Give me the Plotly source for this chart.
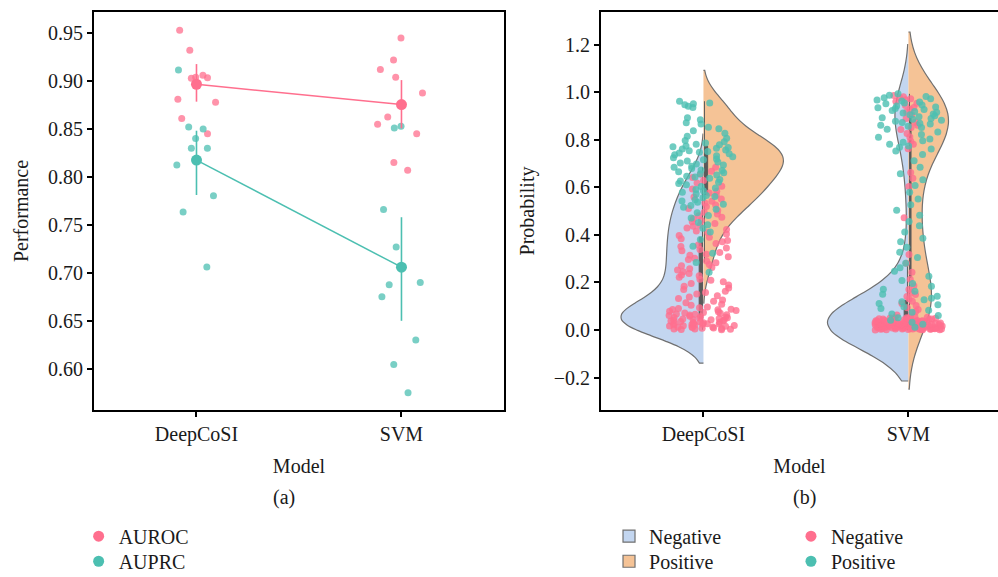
import plotly.graph_objects as go
import numpy as np

# ---------------- data ----------------
models = ["DeepCoSI", "SVM"]

# (a) per-fold performance
auroc_deepcosi = [0.953, 0.932, 0.906, 0.903, 0.904, 0.9035, 0.881, 0.878, 0.861, 0.845]
auroc_svm = [0.945, 0.922, 0.912, 0.904, 0.8875, 0.8625, 0.855, 0.845, 0.815, 0.807]
auprc_deepcosi = [0.9115, 0.852, 0.850, 0.840, 0.830, 0.830, 0.8125, 0.7805, 0.7635, 0.706]
auprc_svm = [0.853, 0.851, 0.766, 0.727, 0.690, 0.6875, 0.675, 0.630, 0.6045, 0.575]
auroc_ci_low = [0.8785, 0.8507]
auroc_ci_high = [0.9177, 0.9010]
auprc_ci_low = [0.7812, 0.6500]
auprc_ci_high = [0.8482, 0.7580]

# (b) predicted probabilities
prob_deepcosi_neg = [
    0.001, 0.002, 0.004, 0.005, 0.007, 0.009, 0.011, 0.012, 0.014, 0.016,
    0.017, 0.019, 0.021, 0.022, 0.024, 0.026, 0.028, 0.029, 0.031, 0.033,
    0.034, 0.036, 0.039, 0.041, 0.042, 0.044, 0.047, 0.049, 0.051, 0.053,
    0.055, 0.058, 0.061, 0.063, 0.066, 0.068, 0.071, 0.074, 0.077, 0.079,
    0.082, 0.085, 0.088, 0.091, 0.094, 0.097, 0.003, 0.008, 0.013, 0.018,
    0.023, 0.027, 0.032, 0.038, 0.043, 0.052, 0.057, 0.064, 0.072, 0.086,
    0.104, 0.108, 0.115, 0.121, 0.126, 0.133, 0.139, 0.144, 0.152, 0.158,
    0.163, 0.171, 0.177, 0.184, 0.189, 0.196,
    0.203, 0.209, 0.214, 0.222, 0.228, 0.231, 0.238, 0.245, 0.252, 0.258,
    0.263, 0.270, 0.276, 0.283, 0.290, 0.297,
    0.302, 0.308, 0.315, 0.319, 0.326, 0.333, 0.339, 0.345, 0.351, 0.358,
    0.364, 0.371, 0.377, 0.384, 0.390, 0.397,
    0.404, 0.410, 0.416, 0.423, 0.429, 0.436, 0.441, 0.448, 0.455, 0.461,
    0.468, 0.474, 0.481, 0.488, 0.495,
    0.503, 0.511, 0.519, 0.526, 0.534, 0.542, 0.551, 0.559, 0.567, 0.576,
    0.584, 0.593,
    0.605, 0.618, 0.629, 0.641, 0.655, 0.668, 0.684,
]
prob_deepcosi_pos = [
    0.962, 0.955, 0.951, 0.947, 0.941, 0.936,
    0.893, 0.884, 0.871, 0.866, 0.853, 0.846, 0.838, 0.827, 0.815, 0.806,
    0.797, 0.792, 0.786, 0.781, 0.779, 0.774, 0.771, 0.767, 0.764, 0.761,
    0.757, 0.754, 0.751, 0.747, 0.744, 0.741, 0.737, 0.733, 0.729, 0.724,
    0.719, 0.716, 0.711, 0.706, 0.702,
    0.698, 0.694, 0.689, 0.684, 0.679, 0.673, 0.671, 0.666, 0.661, 0.657,
    0.652, 0.647, 0.643, 0.638, 0.633, 0.627, 0.621, 0.616, 0.611, 0.604,
    0.597, 0.591, 0.586, 0.579, 0.572, 0.566, 0.561, 0.556, 0.548, 0.543,
    0.537, 0.529, 0.524, 0.516, 0.508,
    0.493, 0.482, 0.471, 0.452, 0.443, 0.428, 0.412,
    0.381, 0.352, 0.323, 0.284, 0.243,
]
prob_svm_neg = [
    0.000, 0.001, 0.001, 0.002, 0.003, 0.003, 0.004, 0.005, 0.005, 0.006,
    0.007, 0.007, 0.008, 0.009, 0.010, 0.010, 0.011, 0.012, 0.012, 0.013,
    0.014, 0.015, 0.015, 0.016, 0.017, 0.017, 0.018, 0.019, 0.020, 0.020,
    0.021, 0.022, 0.022, 0.023, 0.024, 0.025, 0.025, 0.026, 0.027, 0.028,
    0.028, 0.029, 0.030, 0.031, 0.031, 0.032, 0.033, 0.034, 0.035, 0.036,
    0.037, 0.038, 0.039, 0.040, 0.041, 0.042, 0.044, 0.045, 0.047, 0.049,
    0.050, 0.052, 0.054, 0.002, 0.004, 0.006, 0.009, 0.011, 0.013, 0.016,
    0.018, 0.021, 0.023, 0.026, 0.029, 0.032, 0.036, 0.039, 0.043, 0.048,
    0.001, 0.003, 0.006, 0.008, 0.012, 0.014, 0.019, 0.024, 0.027, 0.034,
    0.004, 0.009, 0.015, 0.020, 0.030, 0.038, 0.046, 0.051, 0.053, 0.055,
    0.058, 0.063, 0.071, 0.078, 0.086, 0.094, 0.103, 0.112, 0.121, 0.132,
    0.141, 0.149,
    0.158, 0.171, 0.186, 0.214, 0.243, 0.281,
    0.318, 0.472, 0.603, 0.638, 0.662,
    0.762, 0.781, 0.794, 0.812, 0.826, 0.843, 0.852, 0.861, 0.874, 0.889,
    0.905, 0.917, 0.928, 0.936, 0.944, 0.953, 0.961, 0.968, 0.972, 0.977,
    0.981, 0.986,
]
prob_svm_pos = [
    0.852, 0.857, 0.861, 0.866, 0.869, 0.873, 0.878, 0.882, 0.886, 0.889,
    0.893, 0.897, 0.901, 0.905, 0.908, 0.912, 0.916, 0.919, 0.923, 0.927,
    0.931, 0.934, 0.938, 0.942, 0.946, 0.951, 0.955, 0.959, 0.963, 0.967,
    0.972, 0.977, 0.982, 0.987, 0.993,
    0.753, 0.761, 0.768, 0.774, 0.781, 0.789, 0.796, 0.803, 0.811, 0.822,
    0.833, 0.844,
    0.608, 0.632, 0.657, 0.684, 0.712, 0.738,
    0.412, 0.438, 0.456, 0.483, 0.504, 0.527, 0.551, 0.579,
    0.208, 0.226, 0.247, 0.262, 0.281, 0.305, 0.327, 0.348, 0.371, 0.386,
    0.083, 0.091, 0.098, 0.106, 0.112, 0.119, 0.127, 0.134, 0.142, 0.151,
    0.163, 0.172, 0.184, 0.196,
    0.012, 0.024, 0.033, 0.041, 0.052, 0.061, 0.068, 0.075,
]

# ---------------- styles ----------------
PINK = "#FF6F8E"
TEAL = "#4CBFB1"
BLUE_FILL = "#C3D6F0"
ORANGE_FILL = "#F5C396"
VIOLIN_LINE = "#707070"
FONT = "Liberation Serif"
TXT = "#1a1a1a"

fig = go.Figure()

# ---------- panel (a) ----------
def strip(xcat, yvals, color, xa, ya, width, size, opacity):
    return go.Box(
        x=xcat, y=yvals, xaxis=xa, yaxis=ya,
        boxpoints="all", jitter=1.0, pointpos=0, width=width,
        fillcolor="rgba(0,0,0,0)", line=dict(width=0, color="rgba(0,0,0,0)"),
        whiskerwidth=0,
        marker=dict(color=color, size=size, opacity=opacity, line=dict(width=0)),
        showlegend=False, hoverinfo="skip",
    )

for vals_d, vals_s, col in [(auroc_deepcosi, auroc_svm, PINK), (auprc_deepcosi, auprc_svm, TEAL)]:
    fig.add_trace(strip([models[0]] * len(vals_d) + [models[1]] * len(vals_s),
                        vals_d + vals_s, col, "x", "y", 0.24, 7, 0.75))

for vals_d, vals_s, lo, hi, col in [
    (auroc_deepcosi, auroc_svm, auroc_ci_low, auroc_ci_high, PINK),
    (auprc_deepcosi, auprc_svm, auprc_ci_low, auprc_ci_high, TEAL),
]:
    means = [float(np.mean(vals_d)), float(np.mean(vals_s))]
    fig.add_trace(go.Scatter(
        x=models, y=means, xaxis="x", yaxis="y", mode="lines+markers",
        line=dict(color=col, width=1.5),
        marker=dict(color=col, size=11),
        error_y=dict(type="data", symmetric=False,
                     array=[h - m for h, m in zip(hi, means)],
                     arrayminus=[m - l for l, m in zip(lo, means)],
                     color=col, thickness=1.6, width=0),
        showlegend=False, hoverinfo="skip",
    ))

fig.add_trace(go.Scatter(x=[None], y=[None], mode="markers", name="AUROC",
                         marker=dict(color=PINK, size=11), legend="legend",
                         xaxis="x", yaxis="y"))
fig.add_trace(go.Scatter(x=[None], y=[None], mode="markers", name="AUPRC",
                         marker=dict(color=TEAL, size=11), legend="legend2",
                         xaxis="x", yaxis="y"))

# ---------- panel (b) ----------
violins = [
    (models[0], prob_deepcosi_neg, "negative", BLUE_FILL, 0.80, 0.07, "Negative", "legend3"),
    (models[0], prob_deepcosi_pos, "positive", ORANGE_FILL, 0.78, 0.065, "Positive", "legend4"),
    (models[1], prob_svm_neg, "negative", BLUE_FILL, 0.79, 0.107, "Negative", "legend3"),
    (models[1], prob_svm_pos, "positive", ORANGE_FILL, 0.39, 0.13, "Positive", "legend4"),
]
seen = set()
for m, vals, side, fill, w, bw, nm, lgd in violins:
    fig.add_trace(go.Violin(
        x=[m] * len(vals), y=vals, xaxis="x2", yaxis="y2",
        side=side, width=w, bandwidth=bw, spanmode="soft",
        fillcolor=fill, opacity=1, line=dict(color=VIOLIN_LINE, width=1.2),
        points=False, scalemode="width",
        box=dict(visible=True, width=0.08, fillcolor="#5a5a5a", line=dict(color="#5a5a5a", width=1)),
        meanline=dict(visible=False),
        name=nm, legend=lgd, showlegend=(nm not in seen), hoverinfo="skip",
    ))
    seen.add(nm)

fig.add_trace(strip([models[0]] * len(prob_deepcosi_neg) + [models[1]] * len(prob_svm_neg),
                    prob_deepcosi_neg + prob_svm_neg, PINK, "x2", "y2", 0.34, 7, 0.8))
fig.add_trace(strip([models[0]] * len(prob_deepcosi_pos) + [models[1]] * len(prob_svm_pos),
                    prob_deepcosi_pos + prob_svm_pos, TEAL, "x2", "y2", 0.34, 7, 0.8))

fig.add_trace(go.Scatter(x=[None], y=[None], mode="markers", name="Negative",
                         marker=dict(color=PINK, size=11), legend="legend5",
                         xaxis="x2", yaxis="y2"))
fig.add_trace(go.Scatter(x=[None], y=[None], mode="markers", name="Positive",
                         marker=dict(color=TEAL, size=11), legend="legend6",
                         xaxis="x2", yaxis="y2"))

# ---------- layout ----------
axis_common = dict(
    showline=True, linecolor="black", linewidth=2, ticks="outside",
    ticklen=5, tickwidth=1.5, tickcolor="black", showgrid=False, zeroline=False,
    tickfont=dict(family=FONT, size=20, color=TXT),
    title_font=dict(family=FONT, size=20, color=TXT),
)


def lg(x, y):
    return dict(x=x, y=y, xanchor="left", yanchor="middle", bgcolor="rgba(0,0,0,0)",
                font=dict(family=FONT, size=20, color=TXT), tracegroupgap=0,
                itemclick=False, itemdoubleclick=False)


ROW1 = -0.317
ROW2 = -0.380
fig.update_layout(
    width=998, height=577,
    margin=dict(l=94, r=0, t=12, b=167, autoexpand=False),
    paper_bgcolor="white", plot_bgcolor="white",
    font=dict(family=FONT, size=20, color=TXT),
    boxmode="overlay", violinmode="overlay",
    xaxis=dict(domain=[0, 0.4535], type="category", categoryorder="array",
               categoryarray=models, range=[-0.5, 1.5], mirror=True,
               title=dict(text="Model", standoff=14), anchor="y", **axis_common),
    yaxis=dict(domain=[0, 1], range=[0.557, 0.972], tick0=0.6, dtick=0.05,
               tickformat=".2f", mirror=True, anchor="x",
               title=dict(text="Performance", standoff=14), **axis_common),
    xaxis2=dict(domain=[0.5608, 1], type="category", categoryorder="array",
                categoryarray=models, range=[-0.5, 1.437], mirror=True,
                title=dict(text="Model", standoff=14), anchor="y2", **axis_common),
    yaxis2=dict(domain=[0, 1], range=[-0.336, 1.337], tick0=0, dtick=0.2,
                tickformat=".1f", mirror=False, anchor="x2",
                title=dict(text="Probability", standoff=14), **axis_common),
    legend=lg(-0.017, ROW1),
    legend2=lg(-0.017, ROW2),
    legend3=lg(0.5697, ROW1),
    legend4=lg(0.5697, ROW2),
    legend5=lg(0.771, ROW1),
    legend6=lg(0.771, ROW2),
    annotations=[
        dict(text="(a)", x=0.2102, y=-0.221, xref="paper", yref="paper",
             showarrow=False, xanchor="center", yanchor="middle",
             font=dict(family=FONT, size=20, color=TXT)),
        dict(text="(b)", x=0.7865, y=-0.221, xref="paper", yref="paper",
             showarrow=False, xanchor="center", yanchor="middle",
             font=dict(family=FONT, size=20, color=TXT)),
    ],
)

fig.write_html("out.html")
